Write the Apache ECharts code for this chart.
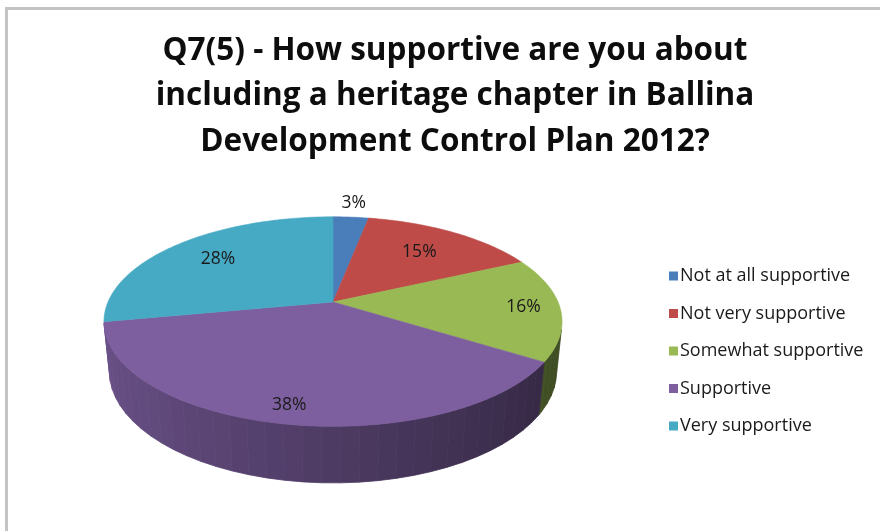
<!DOCTYPE html>
<html>
<head>
<meta charset="utf-8">
<title>Q7(5) heritage chapter support</title>
<script src="https://cdn.jsdelivr.net/npm/echarts@6/dist/echarts.min.js"></script>
<style>
  html, body { margin: 0; padding: 0; background: #ffffff; }
  #wrap { position: relative; width: 880px; height: 531px; overflow: hidden; }
  #chart { position: absolute; left: 0; top: 0; width: 880px; height: 531px; }
  #frame { position: absolute; left: 5px; top: 7px; width: 900px; height: 600px;
           border-top: 3px solid #c4c4c4; border-left: 3px solid #c4c4c4; pointer-events: none; }
</style>
</head>
<body>
<div id="wrap">
  <div id="chart"></div>
  <div id="frame"></div>
</div>
<script>
// Survey answers (percent of respondents)
const categories = ['Not at all supportive', 'Not very supportive', 'Somewhat supportive', 'Supportive', 'Very supportive'];
const percents = [3, 15, 16, 38, 28];

const titleText = 'Q7(5) - How supportive are you about\nincluding a heritage chapter in Ballina\nDevelopment Control Plan 2012?';

// Styling
const colors = ['#4A7EBB', '#BE4B48', '#98B954', '#7D5FA0', '#46AAC5'];
const labelRadius = [1.2, 0.69, 0.84, 0.87, 0.72];
const FONT = '"Open Sans", Lato, sans-serif';

// 3D view: tilt of the disc, eye distance and thickness, all in radius units
const TILT = 26.7 * Math.PI / 180;
const SIN_T = Math.sin(TILT), COS_T = Math.cos(TILT);
const EYE = 4.78;
const THICK = 0.25;

const total = percents.reduce((a, b) => a + b, 0);
const startAngles = [];
percents.reduce((acc, v, i) => { startAngles[i] = acc; return acc + v; }, 0);

// Project a point on the disc (x right, y up, z toward the viewer) into axis units.
function project(x, y, z) {
  const up = y * COS_T - z * SIN_T;
  const depth = z * COS_T + y * SIN_T;
  const f = EYE / (EYE - depth);
  return [x * f, up * f];
}
// Point on the rim at clockwise angle theta (0 = twelve o'clock, at the back)
function rim(theta, y, r) {
  r = r === undefined ? 1 : r;
  return project(r * Math.sin(theta), y, -r * Math.cos(theta));
}
function shade(hex, k) {
  const n = parseInt(hex.slice(1), 16);
  const c = [(n >> 16) & 255, (n >> 8) & 255, n & 255].map(v => Math.max(0, Math.min(255, Math.round(v * k))));
  return 'rgb(' + c.join(',') + ')';
}

// Part of the wall is visible where the outward normal faces the eye
const VISIBLE_COS = -1 / (EYE * COS_T);

function renderSlice(params, api) {
  const i = params.seriesIndex;
  const value = api.value(2);
  const a0 = startAngles[i] / total * Math.PI * 2;
  const a1 = (startAngles[i] + value) / total * Math.PI * 2;
  const toPx = p => api.coord(p);
  const children = [];

  // outer wall, faceted
  const facet = 4 * Math.PI / 180;
  for (let t = a0; t < a1 - 1e-6; t += facet) {
    const tb = Math.min(a1, t + facet);
    const tm = (t + tb) / 2;
    if (Math.cos(tm) > VISIBLE_COS) continue;
    const col = shade(colors[i], 0.62 - 0.22 * Math.sin(tm));
    children.push({
      type: 'polygon', z2: 1,
      shape: { points: [rim(t, 0), rim(tb, 0), rim(tb, -THICK), rim(t, -THICK)].map(toPx) },
      style: { fill: col, stroke: col, lineWidth: 0.8 }
    });
  }

  // top face
  const pts = [toPx(project(0, 0, 0))];
  const steps = Math.max(4, Math.ceil((a1 - a0) / (Math.PI / 180)));
  for (let k = 0; k <= steps; k++) {
    pts.push(toPx(rim(a0 + (a1 - a0) * k / steps, 0)));
  }
  children.push({
    type: 'polygon', z2: 5,
    shape: { points: pts },
    style: { fill: colors[i], stroke: colors[i], lineWidth: 0.6 }
  });

  // value label
  const mid = (a0 + a1) / 2;
  const lp = toPx(rim(mid, 0, labelRadius[i]));
  children.push({
    type: 'text', z2: 10,
    style: {
      text: value + '%', x: lp[0], y: lp[1],
      align: 'center', verticalAlign: 'middle',
      fill: '#1a1a1a', font: '17.5px ' + FONT
    }
  });
  return { type: 'group', children: children };
}

const UNIT = 225;           // pixels per radius unit
const CX = 333, CY = 302;   // pie centre on the page
const X_SPAN = 1.3, Y_SPAN = 1.0;

const chart = echarts.init(document.getElementById('chart'), null, { renderer: 'canvas' });
chart.setOption({
  animation: false,
  backgroundColor: '#ffffff',
  title: {
    text: titleText,
    left: 455,
    textAlign: 'center',
    top: 28,
    padding: 0,
    textStyle: { fontFamily: FONT, fontWeight: 'bold', fontSize: 31.5, lineHeight: 45.5, color: '#0d0d0d' }
  },
  legend: {
    orient: 'vertical',
    left: 664,
    top: 262,
    icon: 'rect',
    itemWidth: 9,
    itemHeight: 9,
    itemGap: 19.5,
    data: categories,
    textStyle: { fontFamily: FONT, fontSize: 18, color: '#1a1a1a', padding: [0, 0, 0, -3] }
  },
  grid: {
    left: CX - X_SPAN * UNIT,
    width: 2 * X_SPAN * UNIT,
    top: CY - Y_SPAN * UNIT,
    height: 2 * Y_SPAN * UNIT
  },
  xAxis: { type: 'value', min: -X_SPAN, max: X_SPAN, show: false },
  yAxis: { type: 'value', min: -Y_SPAN, max: Y_SPAN, show: false },
  color: colors,
  series: categories.map((name, i) => ({
    type: 'custom',
    name: name,
    coordinateSystem: 'cartesian2d',
    z: 2,
    clip: false,
    itemStyle: { color: colors[i] },
    encode: { x: 0, y: 1 },
    data: [[0, 0, percents[i]]],
    renderItem: renderSlice
  }))
});
</script>
</body>
</html>
